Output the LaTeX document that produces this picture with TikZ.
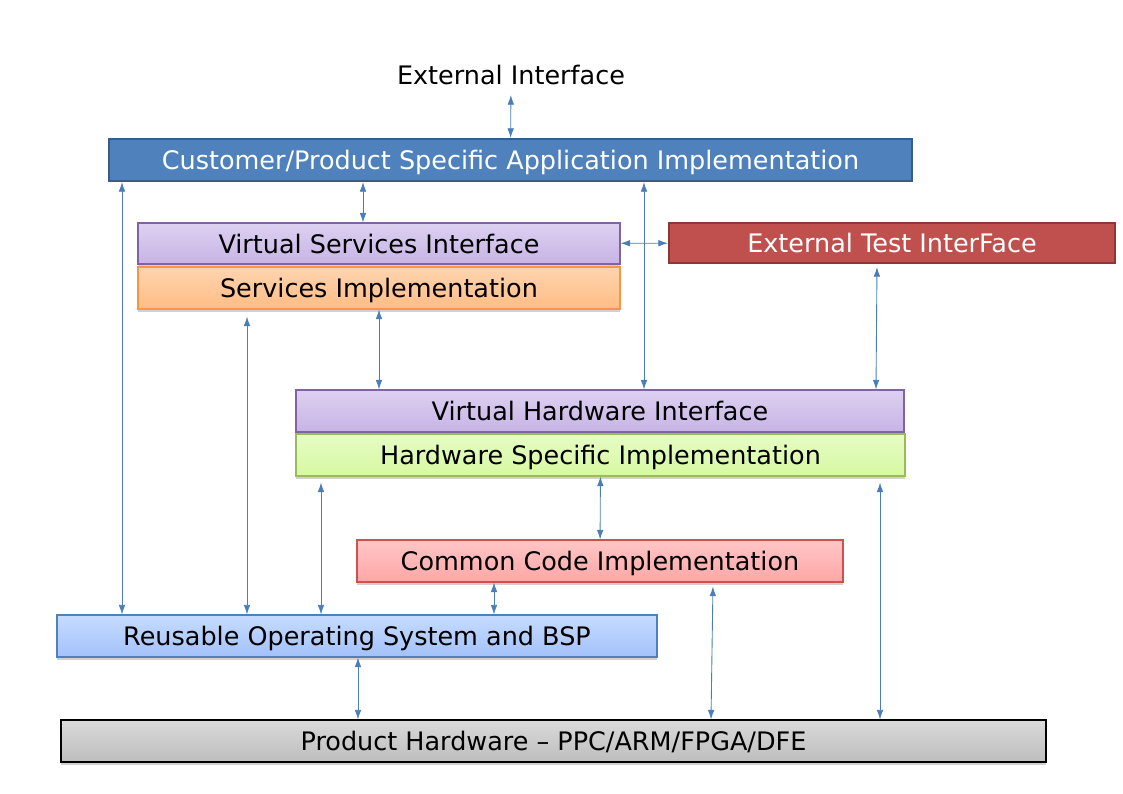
\documentclass[tikz,border=0pt]{standalone}
\usepackage{fontspec}
\setmainfont{DejaVu Sans}
\usetikzlibrary{arrows.meta,shadows}

\definecolor{linkblue}{HTML}{4A7EBB}
\definecolor{appfill}{HTML}{4F81BD}
\definecolor{appdraw}{HTML}{385D8A}
\definecolor{etifill}{HTML}{C0504D}
\definecolor{etidraw}{HTML}{8C3836}
\definecolor{lavtop}{HTML}{DDD1F1}
\definecolor{lavbot}{HTML}{C7B3E5}
\definecolor{lavdraw}{HTML}{8064A2}
\definecolor{orgtop}{HTML}{FFD4B0}
\definecolor{orgbot}{HTML}{FFBD84}
\definecolor{orgdraw}{HTML}{F79646}
\definecolor{grntop}{HTML}{E6FCC6}
\definecolor{grnbot}{HTML}{D6F9A0}
\definecolor{grndraw}{HTML}{9BBB59}
\definecolor{pnktop}{HTML}{FFC6C6}
\definecolor{pnkbot}{HTML}{FFA6A6}
\definecolor{pnkdraw}{HTML}{D0504D}
\definecolor{blutop}{HTML}{C6DBFF}
\definecolor{blubot}{HTML}{A3C2FB}
\definecolor{grytop}{HTML}{DADADA}
\definecolor{grybot}{HTML}{BDBDBD}

\begin{document}
\begin{tikzpicture}[every node/.style={font=\fontsize{14.5pt}{17pt}\selectfont}, box/.style={draw, minimum height=0.84cm, inner sep=0pt, text depth=0pt, line width=0.6pt}, soft/.style={box, drop shadow={shadow xshift=0pt, shadow yshift=-1.5pt, fill=black!18, opacity=1}}, link/.style={<->, draw=linkblue, line width=0.5pt}, >={Latex[length=5.5pt,width=3.8pt]}]

                \useasboundingbox (0,0) rectangle (22.46,-15.88);

                \node (ext) at (10.22,-1.50) {External Interface};
                \node[box, fill=appfill, draw=appdraw, line width=1.2pt, text=white, minimum width=16.06cm] (app) at (10.21,-3.20) {Customer/Product Specific Application Implementation};

                \node[soft, top color=lavtop, bottom color=lavbot, draw=lavdraw, minimum width=9.64cm, minimum height=0.82cm] (vsi) at (7.58,-4.87) {Virtual Services Interface};
                \node[soft, top color=orgtop, bottom color=orgbot, draw=orgdraw, minimum width=9.64cm] (simp) at (7.58,-5.76) {Services Implementation};
                \node[box, fill=etifill, draw=etidraw, line width=1.2pt, text=white, minimum width=8.92cm, minimum height=0.80cm] (eti) at (17.84,-4.86) {External Test InterFace};

                \node[soft, top color=lavtop, bottom color=lavbot, draw=lavdraw, minimum width=12.16cm] (vhi) at (12.00,-8.22) {Virtual Hardware Interface};
                \node[soft, top color=grntop, bottom color=grnbot, draw=grndraw, minimum width=12.18cm] (hsi) at (12.01,-9.10) {Hardware Specific Implementation};

                \node[soft, top color=pnktop, bottom color=pnkbot, draw=pnkdraw, minimum width=9.72cm] (cci) at (12.00,-11.22) {Common Code Implementation};
                \node[soft, top color=blutop, bottom color=blubot, draw=appfill, minimum width=12.00cm] (ros) at (7.14,-12.72) {Reusable Operating System and BSP};
                \node[soft, top color=grytop, bottom color=grybot, draw=black, minimum width=19.70cm] (phw) at (11.07,-14.82) {Product Hardware – PPC/ARM/FPGA/DFE};

                \draw[link, shorten <=0.08cm] (ext) -- (app);
                \draw[link] (app.south -| 2.44,0) -- (ros.north -| 2.44,0);
                \draw[link] (app.south -| 7.26,0) -- (vsi.north -| 7.26,0);
                \draw[link] (app.south -| 12.88,0) -- (vhi.north -| 12.88,0);
                \draw[link] (vsi) -- (eti);
                \draw[link, shorten <=0.14cm] (simp.south -| 4.94,0) -- (ros.north -| 4.94,0);
                \draw[link] (simp.south -| 7.58,0) -- (vhi.north -| 7.58,0);
                \draw[link, shorten <=0.06cm] (eti.south -| 17.54,0) -- (vhi.north -| 17.52,0);
                \draw[link, shorten <=0.12cm] (hsi.south -| 6.42,0) -- (ros.north -| 6.42,0);
                \draw[link] (hsi) -- (cci);
                \draw[link, shorten <=0.12cm] (hsi.south -| 17.60,0) -- (phw.north -| 17.60,0);
                \draw[link] (cci.south -| 9.88,0) -- (ros.north -| 9.88,0);
                \draw[link, shorten <=0.08cm] (cci.south -| 14.26,0) -- (phw.north -| 14.22,0);
                \draw[link] (ros.south -| 7.16,0) -- (phw.north -| 7.16,0);
            \end{tikzpicture}
\end{document}
